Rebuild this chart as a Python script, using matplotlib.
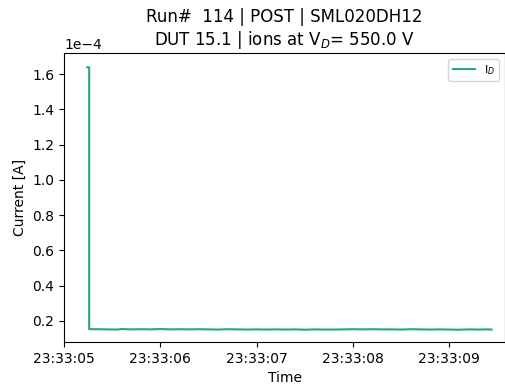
import numpy as np
import pandas as pd
import matplotlib
import matplotlib.pyplot as plt
import matplotlib.dates as mdates

# offsets in seconds after 23:33:05
t_start = pd.Timestamp("2021-01-01 23:33:05")
peak_times = [0.24, 0.26]
peak_vals = [1.64e-4, 1.64e-4]
base_times = [0.26, 0.35, 0.45, 0.55, 0.60, 0.70, 0.80, 0.90, 1.00, 1.10, 1.20, 1.30,
              1.40, 1.50, 1.60, 1.70, 1.80, 1.90, 2.00, 2.10, 2.20, 2.30, 2.40, 2.50,
              2.60, 2.70, 2.80, 2.90, 3.00, 3.10, 3.20, 3.30, 3.40, 3.50, 3.60, 3.70,
              3.80, 3.90, 4.00, 4.10, 4.20, 4.30, 4.40, 4.44]
base_vals = [1.52e-5, 1.52e-5, 1.51e-5, 1.50e-5, 1.53e-5, 1.51e-5, 1.52e-5, 1.51e-5, 1.53e-5, 1.51e-5, 1.52e-5, 1.51e-5,
             1.52e-5, 1.51e-5, 1.50e-5, 1.52e-5, 1.51e-5, 1.50e-5, 1.51e-5, 1.50e-5, 1.51e-5, 1.50e-5, 1.51e-5, 1.49e-5,
             1.51e-5, 1.50e-5, 1.50e-5, 1.51e-5, 1.52e-5, 1.51e-5, 1.52e-5, 1.51e-5, 1.51e-5, 1.50e-5, 1.52e-5, 1.51e-5,
             1.50e-5, 1.51e-5, 1.50e-5, 1.49e-5, 1.51e-5, 1.50e-5, 1.51e-5, 1.50e-5]

secs = np.array(peak_times + base_times)
current = np.array(peak_vals + base_vals)
times = t_start + pd.to_timedelta(secs, unit="s")

fig = plt.figure(figsize=(5.05, 3.85), dpi=100)
ax = fig.add_axes([0.127, 0.112, 0.873, 0.75])
ax.plot(times, current, color="#27a884", linewidth=1.5, label="I$_D$")

ax.set_xlim(t_start, t_start + pd.Timedelta(seconds=4.58))
ax.set_ylim(0.08e-4, 1.72e-4)
ax.ticklabel_format(axis="y", style="sci", scilimits=(0, 0))
ax.xaxis.set_major_locator(mdates.SecondLocator())
ax.xaxis.set_major_formatter(mdates.DateFormatter("%H:%M:%S"))
ax.set_xlabel("Time")
ax.set_ylabel("Current [A]")
ax.set_title("Run#  114 | POST | SML020DH12\nDUT 15.1 | ions at V$_D$= 550.0 V")
ax.legend(loc="upper right", fontsize=8)

plt.savefig("out.png", dpi=100)
plt.close()
